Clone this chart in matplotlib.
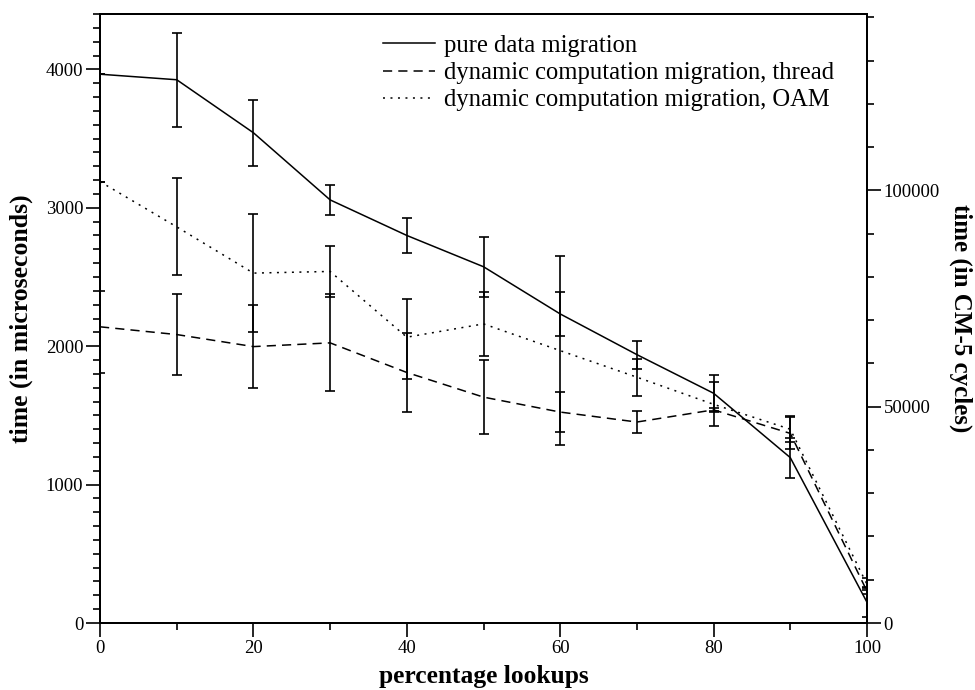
import matplotlib
matplotlib.use("Agg")
import matplotlib.pyplot as plt
from matplotlib.ticker import MultipleLocator

plt.rcParams['font.family'] = ['Liberation Serif', 'DejaVu Serif']

# percentage lookups
lookups = [0, 10, 20, 30, 40, 50, 60, 70, 80, 90, 100]

# pure data migration (microseconds)
pure_mean = [3965, 3925, 3542, 3057, 2800, 2574, 2233, 1939, 1660, 1195, 150]
pure_lo = [0, 338, 240, 106, 128, 216, 160, 102, 125, 145, 110]
pure_hi = [0, 338, 240, 106, 128, 216, 160, 102, 135, 145, 110]

# dynamic computation migration, thread
thread_mean = [2140, 2084, 1997, 2024, 1810, 1632, 1524, 1452, 1540, 1370, 230]
thread_lo = [335, 292, 298, 351, 286, 269, 145, 78, 15, 115, 20]
thread_hi = [260, 292, 298, 351, 286, 269, 145, 78, 15, 115, 20]

# dynamic computation migration, OAM
oam_mean = [3189, 2862, 2528, 2540, 2065, 2161, 1968, 1776, 1580, 1400, 280]
oam_lo = [0, 351, 429, 183, 300, 231, 685, 135, 160, 95, 45]
oam_hi = [0, 351, 429, 183, 276, 231, 685, 135, 160, 95, 45]

labels = ["pure data migration",
          "dynamic computation migration, thread",
          "dynamic computation migration, OAM"]

CYCLES_PER_US = 32

fig = plt.figure(figsize=(9.75, 6.9), dpi=100)
ax = fig.add_axes([0.1026, 0.0971, 0.7866, 0.8826])

lw = 1.1
styles = ['-', (0, (6, 4)), (0, (1.3, 3.6))]
series = [(pure_mean, pure_lo, pure_hi),
          (thread_mean, thread_lo, thread_hi),
          (oam_mean, oam_lo, oam_hi)]

for (mean, lo, hi), ls, lab in zip(series, styles, labels):
    ax.plot(lookups, mean, color='black', lw=lw, linestyle=ls, label=lab)
    ax.errorbar(lookups, mean, yerr=[lo, hi], fmt='none', ecolor='black',
                elinewidth=1.2, capsize=3.3, capthick=1.2)

ax.set_xlim(0, 100)
ax.set_ylim(0, 4400)
ax.xaxis.set_major_locator(MultipleLocator(20))
ax.xaxis.set_minor_locator(MultipleLocator(10))
ax.yaxis.set_major_locator(MultipleLocator(1000))
ax.yaxis.set_minor_locator(MultipleLocator(100))
ax.tick_params(which='both', direction='out', top=False, right=False,
               labelsize=13.5, width=1.2, pad=2)
ax.tick_params(which='major', length=10)
ax.tick_params(which='minor', length=5)

for s in ax.spines.values():
    s.set_linewidth(1.4)

ax.set_xlabel("percentage lookups", fontsize=18.4, fontweight='bold')
ax.xaxis.set_label_coords(0.5, -0.0696)
ax.set_ylabel("time (in microseconds)", fontsize=18.5, fontweight='bold')
ax.yaxis.set_label_coords(-0.087, 0.5)

# right axis: CM-5 cycles
ax2 = ax.twinx()
ax2.set_ylim(0, 4400 * CYCLES_PER_US)
ax2.yaxis.set_major_locator(MultipleLocator(50000))
ax2.yaxis.set_minor_locator(MultipleLocator(10000))
ax2.tick_params(which='both', direction='out', labelsize=13.5, width=1.2, pad=2)
ax2.tick_params(which='major', length=10)
ax2.tick_params(which='minor', length=5)
for s in ax2.spines.values():
    s.set_linewidth(1.4)
ax2.set_ylabel("time (in CM-5 cycles)", fontsize=18, fontweight='bold',
               rotation=270, va='top')
ax2.yaxis.set_label_coords(1.138, 0.5)

leg = ax.legend(loc='upper left', bbox_to_anchor=(0.356, 0.982), frameon=False,
                fontsize=17.7, handlelength=2.1, handletextpad=0.37,
                labelspacing=0.2, borderaxespad=0)

fig.savefig("out.png", dpi=100)
